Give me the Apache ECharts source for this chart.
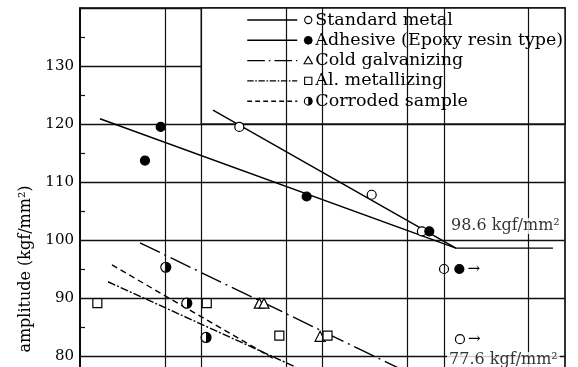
<!DOCTYPE html>
<html><head><meta charset="utf-8">
<script src="https://cdn.jsdelivr.net/npm/echarts@6/dist/echarts.min.js"></script>
<style>html,body{margin:0;padding:0;background:#fff}#c{width:578px;height:367px}</style>
</head><body><div id="c"></div>
<script>
const FONT = '"DejaVu Serif", serif';

// vertical grid positions (number of cycles) and y tick labels shown
const gridCycles = [1e4, 2e4, 1e5, 2e5, 1e6, 2e6, 1e7];
const yLabelsShown = [80, 90, 100, 110, 120, 130];

// measured points (cycles, amplitude kgf/mm2, runout flag)
const standardN   = [4.12e4, 5.09e5, 1.32e6, 2.01e6, 2.72e6];
const standardAmp = [119.5, 107.8, 101.5, 95.0, 82.9];
const standardRun = [0, 0, 0, 0, 1];

const adhesiveN   = [6.87e3, 9.26e3, 1.48e5, 1.52e6, 2.69e6];
const adhesiveAmp = [113.7, 119.5, 107.5, 101.5, 95.0];
const adhesiveRun = [0, 0, 0, 0, 1];

const coldN   = [6.02e4, 6.58e4, 1.91e5];
const coldAmp = [89.1, 89.1, 83.4];

const alN   = [2.78e3, 2.22e4, 8.81e4, 2.20e5];
const alAmp = [89.1, 89.1, 83.5, 83.5];

const corrN   = [1.02e4, 1.52e4, 2.19e4];
const corrAmp = [95.3, 89.1, 83.2];

// fitted S-N lines
const standardLineN   = [2.50e4, 2.52e6, 1.59e7];
const standardLineAmp = [122.4, 98.6, 98.6];
const adhesiveLineN   = [2.92e3, 2.52e6];
const adhesiveLineAmp = [120.9, 98.6];
const coldLineN   = [6.25e3, 1.0e6];
const coldLineAmp = [99.5, 77.2];
const alLineN   = [3.40e3, 1.2e5];
const alLineAmp = [92.8, 78.1];
const corrLineN   = [3.67e3, 8.27e4];
const corrLineAmp = [95.7, 79.3];

// annotations
const annotN    = [2.21e6, 2.13e6];
const annotAmp  = [102.4, 79.3];
const annotText = ['98.6 kgf/mm\u00b2', '77.6 kgf/mm\u00b2'];

const names = ['Standard metal', 'Adhesive (Epoxy resin type)', 'Cold galvanizing', 'Al. metallizing', 'Corroded sample'];

const zip = (a, b) => a.map((v, i) => [v, b[i]]);
const withRun = (n, a, r) => n.map((v, i) => r[i] ? {
  value: [v, a[i]],
  label: { show: true, formatter: '\u2192', position: 'right', distance: 3, fontSize: 15, color: '#000', fontFamily: FONT }
} : [v, a[i]]);

const halfFill = { type: 'linear', x: 0, y: 0, x2: 1, y2: 0, colorStops: [
  { offset: 0, color: '#fff' }, { offset: 0.5, color: '#fff' },
  { offset: 0.5, color: '#000' }, { offset: 1, color: '#000' }] };

const lineDashes = ['solid', 'solid', [22, 5, 2, 5], [8, 2, 2, 2], [6, 4]];

function fitLine(n, a, dash) {
  return { type: 'line', data: zip(n, a), showSymbol: false, symbol: 'none', silent: true,
    lineStyle: { color: '#000', width: 1.4, type: dash }, z: 3, animation: false };
}
function pts(data, symbol, fill, size) {
  return { type: 'scatter', data, symbol, symbolSize: size, silent: true,
    itemStyle: { color: fill, borderColor: '#000', borderWidth: 1.2, opacity: 1 }, z: 4, animation: false };
}

const chart = echarts.init(document.getElementById('c'), null, { renderer: 'canvas' });
chart.setOption({
  backgroundColor: '#fff',
  animation: false,
  grid: { left: 80, right: 13, top: 8, bottom: -163, outerBoundsMode: 'none', containLabel: false,
    show: true, borderColor: '#000', borderWidth: 1.6, backgroundColor: 'transparent' },
  xAxis: { type: 'log', logBase: 10, min: 2000, max: 2e7,
    axisLine: { show: false }, axisTick: { show: false }, axisLabel: { show: false }, splitLine: { show: false } },
  yAxis: { type: 'value', min: 50, max: 140, interval: 10,
    name: 'amplitude (kgf/mm\u00b2)', nameLocation: 'middle', nameGap: 46,
    nameTextStyle: { fontFamily: FONT, fontSize: 16, color: '#000' },
    axisLine: { show: true, lineStyle: { color: '#000', width: 1.6 } },
    axisTick: { show: true, inside: true, length: 5, lineStyle: { color: '#111' } },
    minorTick: { show: true, splitNumber: 2, length: 5, lineStyle: { color: '#111', width: 1.2 } },
    axisLabel: { fontFamily: FONT, fontSize: 15, color: '#000', margin: 6,
      formatter: v => yLabelsShown.indexOf(v) >= 0 ? String(v) : '' },
    splitLine: { show: true, lineStyle: { color: '#111', width: 1.4 } } },
  series: [
    { type: 'line', data: [[2000, 50]], symbol: 'none', silent: true, z: 0,
      markLine: { silent: true, symbol: 'none', animation: false, label: { show: false },
        lineStyle: { color: '#111', width: 1.2, type: 'solid' },
        data: gridCycles.map(n => ({ xAxis: n })) } },
    fitLine(standardLineN, standardLineAmp, lineDashes[0]),
    fitLine(adhesiveLineN, adhesiveLineAmp, lineDashes[1]),
    fitLine(coldLineN, coldLineAmp, lineDashes[2]),
    fitLine(alLineN, alLineAmp, lineDashes[3]),
    fitLine(corrLineN, corrLineAmp, lineDashes[4]),
    pts(withRun(standardN, standardAmp, standardRun), 'circle', '#fff', 9),
    pts(withRun(adhesiveN, adhesiveAmp, adhesiveRun), 'circle', '#000', 9),
    pts(zip(coldN, coldAmp), 'triangle', '#fff', 10),
    pts(zip(alN, alAmp), 'rect', '#fff', 9),
    pts(zip(corrN, corrAmp), 'circle', halfFill, 10),
    { type: 'scatter', symbolSize: 0, silent: true, z: 5,
      data: annotN.map((n, i) => ({ value: [n, annotAmp[i]], name: annotText[i] })),
      label: { show: true, position: 'right', distance: 0, formatter: p => p.name,
        fontFamily: FONT, fontSize: 16, color: '#000', backgroundColor: '#fff', padding: [0, 2, 0, 2] } }
  ]
});

// legend box (white area bounded by the 2x10^4 and 120 grid lines)
const p0 = chart.convertToPixel({ gridIndex: 0 }, [2e4, 140]);
const p1 = chart.convertToPixel({ gridIndex: 0 }, [2e7, 120]);
const g = [{ type: 'rect', z: 1, silent: true,
  shape: { x: p0[0], y: p0[1], width: p1[0] - p0[0], height: p1[1] - p0[1] },
  style: { fill: '#fff', stroke: '#111', lineWidth: 1.4 } }];
const rowY0 = p0[1] + 12, rowStep = 20.3;
const lx0 = p0[0] + 46, lx1 = p0[0] + 96, sx = p0[0] + 107, tx = p0[0] + 114;
names.forEach((nm, i) => {
  const y = rowY0 + i * rowStep;
  const dash = lineDashes[i] === 'solid' ? null : lineDashes[i].map(d => d * 0.8);
  g.push({ type: 'line', z: 6, silent: true, shape: { x1: lx0, y1: y, x2: lx1, y2: y },
    style: { stroke: '#000', lineWidth: 1.4, lineDash: dash } });
  const r = 3.6;
  if (i === 0) g.push({ type: 'circle', z: 6, shape: { cx: sx, cy: y, r }, style: { fill: '#fff', stroke: '#000', lineWidth: 1.1 } });
  if (i === 1) g.push({ type: 'circle', z: 6, shape: { cx: sx, cy: y, r: r + 0.3 }, style: { fill: '#000', stroke: '#000', lineWidth: 1 } });
  if (i === 2) g.push({ type: 'polygon', z: 6, shape: { points: [[sx, y - 4], [sx + 4.2, y + 3.2], [sx - 4.2, y + 3.2]] }, style: { fill: '#fff', stroke: '#000', lineWidth: 1.1 } });
  if (i === 3) g.push({ type: 'rect', z: 6, shape: { x: sx - 3.6, y: y - 3.6, width: 7.2, height: 7.2 }, style: { fill: '#fff', stroke: '#000', lineWidth: 1.1 } });
  if (i === 4) {
    g.push({ type: 'circle', z: 6, shape: { cx: sx, cy: y, r: r + 0.3 }, style: { fill: '#fff', stroke: '#000', lineWidth: 1.1 } });
    g.push({ type: 'sector', z: 7, shape: { cx: sx, cy: y, r0: 0, r: r + 0.3, startAngle: -Math.PI / 2, endAngle: Math.PI / 2, clockwise: true }, style: { fill: '#000' } });
  }
  g.push({ type: 'text', z: 6, silent: true,
    style: { text: nm, x: tx, y: y, fill: '#000', font: '17.5px "DejaVu Serif"', verticalAlign: 'middle', align: 'left' } });
});
chart.setOption({ graphic: g });
</script>
</body></html>
